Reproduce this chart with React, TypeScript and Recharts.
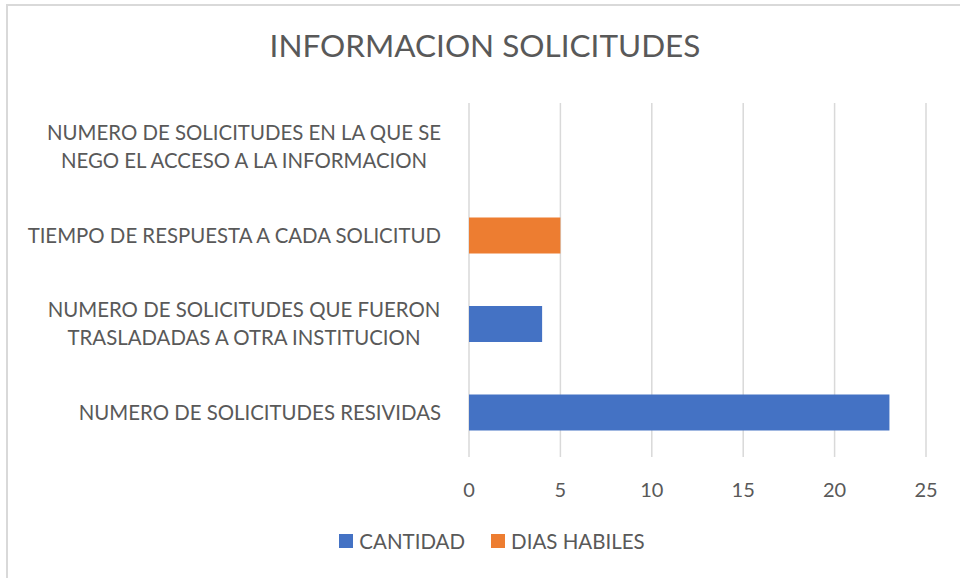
import { BarChart, Bar, XAxis, YAxis, CartesianGrid } from 'recharts';

// categories listed top to bottom as they appear in the chart
const categories = [
  'NUMERO DE SOLICITUDES EN LA QUE SE\nNEGO EL ACCESO A LA INFORMACION',
  'TIEMPO DE RESPUESTA A CADA SOLICITUD',
  'NUMERO DE SOLICITUDES QUE FUERON\nTRASLADADAS A OTRA INSTITUCION',
  'NUMERO DE SOLICITUDES RESIVIDAS',
];
const cantidad = [0, 0, 4, 23];
const diasHabiles = [0, 5, 0, 0];
const xTicks = [0, 5, 10, 15, 20, 25];

const seriesNames = ['CANTIDAD', 'DIAS HABILES'];
const colors = ['#4472C4', '#ED7D31'];

const data = categories.map((name, i) => ({
  name,
  cantidad: cantidad[i],
  diasHabiles: diasHabiles[i],
}));

const FONT = 'Lato, Carlito, Calibri, sans-serif';
const TEXT = '#595959';

function CategoryTick({ x, y, payload }: any) {
  const lines = String(payload.value).split('\n');
  const multi = lines.length > 1;
  const lineH = 28;
  const tx = multi ? x - 197 : x;
  return (
    <text
      x={tx}
      y={y}
      textAnchor={multi ? 'middle' : 'end'}
      fill={TEXT}
      fontSize={20.4}
      fontFamily={FONT}
    >
      {lines.map((line, i) => (
        <tspan key={i} x={tx} dy={i === 0 ? -((lines.length - 1) * lineH) / 2 + 7 : lineH}>
          {line}
        </tspan>
      ))}
    </text>
  );
}

export default function App() {
  return (
    <div style={{ position: 'absolute', left: 0, top: 0, width: 960, height: 578, overflow: 'hidden', background: '#fff', fontFamily: FONT }}>
      <div style={{ position: 'absolute', left: 6, top: 4, width: 1000, height: 1000, border: '2px solid #d9d9d9' }} />
      <div style={{ position: 'absolute', left: 0, width: 970, top: 26, textAlign: 'center', fontSize: 31.5, color: TEXT }}>
        INFORMACION SOLICITUDES
      </div>
      <div style={{ position: 'absolute', left: 0, top: 0 }}>
        <BarChart
          width={960}
          height={578}
          layout="vertical"
          data={data}
          margin={{ top: 103, right: 34, bottom: 0, left: 0 }}
        >
          <CartesianGrid horizontal={false} stroke="#d9d9d9" strokeWidth={1.5} />
          <XAxis
            type="number"
            domain={[0, 25]}
            ticks={xTicks}
            height={121}
            axisLine={false}
            tickLine={false}
            tickMargin={20}
            tick={{ fill: TEXT, fontSize: 20, fontFamily: FONT }}
          />
          <YAxis
            type="category"
            dataKey="name"
            width={469}
            axisLine={false}
            tickLine={false}
            tickMargin={22}
            interval={0}
            tick={<CategoryTick />}
          />
          <Bar dataKey="cantidad" name={seriesNames[0]} stackId="a" fill={colors[0]} barSize={36} isAnimationActive={false} />
          <Bar dataKey="diasHabiles" name={seriesNames[1]} stackId="a" fill={colors[1]} barSize={36} isAnimationActive={false} />
        </BarChart>
      </div>
      <div style={{ position: 'absolute', left: 0, width: 984, top: 529, display: 'flex', justifyContent: 'center', alignItems: 'center', fontSize: 20.5, color: TEXT }}>
        {seriesNames.map((s, i) => (
          <div key={s} style={{ display: 'flex', alignItems: 'center', marginRight: i === 0 ? 26 : 0 }}>
            <span style={{ display: 'inline-block', width: 14, height: 14, background: colors[i], marginRight: 6 }} />
            <span>{s}</span>
          </div>
        ))}
      </div>
    </div>
  );
}
